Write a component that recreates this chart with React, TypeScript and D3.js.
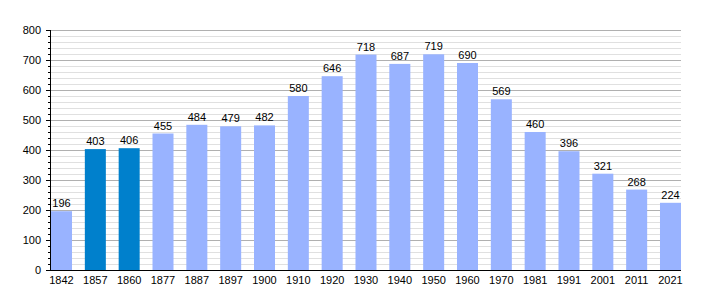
import React from "react";
import * as d3 from "d3";

const years = ["1842","1857","1860","1877","1887","1897","1900","1910","1920","1930","1940","1950","1960","1970","1981","1991","2001","2011","2021"];
const population = [196,403,406,455,484,479,482,580,646,718,687,719,690,569,460,396,321,268,224];
const highlighted = ["1857","1860"];
const yTicks = [0,100,200,300,400,500,600,700,800];

const W = 710, H = 300;
const left = 51, right = 681, top = 30, bottom = 270;

export default function App() {
  const x = d3.scaleBand<string>().domain(years).range([left, right]).paddingInner(0.379).paddingOuter(0);
  const y = d3.scaleLinear().domain([0, 800]).range([bottom, top]);
  const minor = d3.range(0, 801, 20).filter((v) => v % 100 !== 0);
  const font = "'Liberation Sans', Arial, sans-serif";
  return (
    <svg width={W} height={H} style={{ position: "absolute", left: 0, top: 0 }} fontFamily={font}>
      <rect width={W} height={H} fill="#fff" />
      {minor.map((v) => (
        <line key={"m" + v} x1={left} x2={right} y1={y(v) + 0.5} y2={y(v) + 0.5} stroke="#e0e0e0" strokeWidth={1} />
      ))}
      {yTicks.filter((v) => v > 0).map((v) => (
        <line key={"g" + v} x1={left} x2={right} y1={y(v) + 0.5} y2={y(v) + 0.5} stroke="#b0b0b0" strokeWidth={1} />
      ))}
      {years.map((yr, i) => (
        <g key={yr}>
          <rect x={x(yr)} y={y(population[i])} width={x.bandwidth()} height={bottom - y(population[i])}
            fill={highlighted.includes(yr) ? "#0080cc" : "#99b3ff"} />
          <text x={(x(yr) as number) + x.bandwidth() / 2} y={y(population[i]) - 4} textAnchor="middle" fontSize={11} fill="#000">
            {population[i]}
          </text>
          <text x={(x(yr) as number) + x.bandwidth() / 2} y={bottom + 14} textAnchor="middle" fontSize={11} fill="#000">
            {yr}
          </text>
        </g>
      ))}
      {minor.map((v) => (
        <line key={"mt" + v} x1={left - 3} x2={left} y1={y(v) + 0.5} y2={y(v) + 0.5} stroke="#000" strokeWidth={1} />
      ))}
      {yTicks.map((v) => (
        <g key={"t" + v}>
          <line x1={left - 5} x2={left} y1={y(v) + 0.5} y2={y(v) + 0.5} stroke="#000" strokeWidth={1} />
          <text x={left - 10} y={y(v) + 4} textAnchor="end" fontSize={11} fill="#000">{v}</text>
        </g>
      ))}
      <line x1={left - 0.5} x2={left - 0.5} y1={top} y2={bottom + 1} stroke="#000" strokeWidth={1} />
      <line x1={left - 1} x2={right} y1={bottom + 0.5} y2={bottom + 0.5} stroke="#000" strokeWidth={1} />
    </svg>
  );
}
